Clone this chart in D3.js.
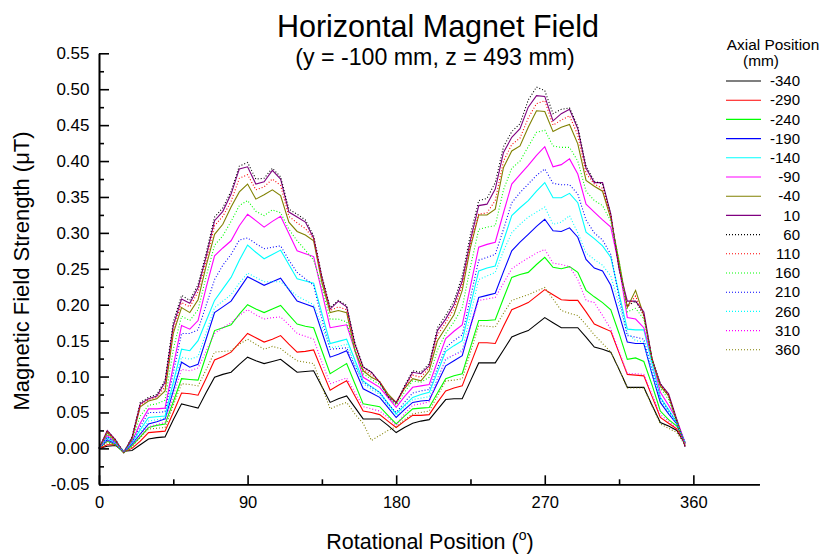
<!DOCTYPE html>
<html><head><meta charset="utf-8">
<script src="https://cdn.jsdelivr.net/npm/d3@7"></script>
<style>
body{margin:0;background:#fff;}
svg{display:block;}
text{font-family:"Liberation Sans",Arial,Helvetica,sans-serif;fill:#000;}
</style>
</head><body>
<svg id="c" width="823" height="557"></svg>
<script>
// ---------- data ----------
const angles = [0,5,10,15,20,25,30,35,40,45,50,55,60,65,70,75,80,85,
  90,95,100,105,110,115,120,125,130,135,140,145,150,155,160,165,170,175,
  180,185,190,195,200,205,210,215,220,225,230,235,240,245,250,255,260,265,
  270,275,280,285,290,295,300,305,310,315,320,325,330,335,340,345,350,355];

const axialLabels = ["-340","-290","-240","-190","-140","-90","-40","10","60","110","160","210","260","310","360"];

const s_m340 = [0.000,0.003,0.004,-0.004,-0.003,0.005,0.013,0.015,0.016,0.040,0.062,0.059,0.056,0.078,0.099,0.103,0.106,0.117,
 0.127,0.122,0.118,0.121,0.124,0.115,0.106,0.107,0.108,0.086,0.064,0.069,0.073,0.057,0.041,0.041,0.041,0.032,
 0.022,0.029,0.035,0.038,0.040,0.054,0.068,0.069,0.069,0.094,0.119,0.119,0.119,0.137,0.155,0.160,0.164,0.173,
 0.182,0.175,0.168,0.168,0.168,0.155,0.141,0.138,0.134,0.110,0.085,0.085,0.085,0.060,0.036,0.031,0.025,0.006];
const s_m290 = [0.000,0.005,0.005,-0.005,0.000,0.010,0.022,0.023,0.024,0.050,0.077,0.076,0.074,0.098,0.123,0.128,0.134,0.147,
 0.160,0.154,0.148,0.152,0.157,0.145,0.134,0.135,0.137,0.109,0.081,0.088,0.094,0.073,0.052,0.050,0.047,0.038,
 0.029,0.038,0.046,0.046,0.047,0.064,0.080,0.084,0.087,0.117,0.147,0.147,0.146,0.170,0.193,0.198,0.203,0.212,
 0.221,0.214,0.207,0.206,0.206,0.190,0.173,0.168,0.163,0.133,0.103,0.102,0.101,0.072,0.043,0.035,0.027,0.008];
const s_m240 = [0.000,0.010,0.005,-0.006,0.004,0.016,0.029,0.032,0.034,0.065,0.097,0.096,0.095,0.130,0.164,0.168,0.172,0.187,
 0.200,0.194,0.189,0.194,0.199,0.186,0.173,0.170,0.168,0.136,0.104,0.111,0.118,0.090,0.062,0.060,0.058,0.046,
 0.034,0.045,0.055,0.056,0.057,0.077,0.097,0.101,0.104,0.141,0.178,0.178,0.179,0.209,0.238,0.242,0.245,0.256,
 0.266,0.252,0.250,0.253,0.245,0.220,0.211,0.203,0.193,0.160,0.124,0.126,0.121,0.088,0.052,0.040,0.031,0.008];
const s_m190 = [0.000,0.012,0.006,-0.005,0.006,0.020,0.034,0.037,0.041,0.080,0.120,0.113,0.117,0.153,0.189,0.197,0.205,0.222,
 0.239,0.233,0.227,0.232,0.237,0.221,0.205,0.201,0.197,0.162,0.127,0.131,0.136,0.110,0.083,0.077,0.071,0.057,
 0.043,0.054,0.064,0.066,0.067,0.091,0.115,0.122,0.129,0.170,0.210,0.213,0.216,0.246,0.275,0.287,0.298,0.309,
 0.319,0.303,0.302,0.307,0.294,0.263,0.251,0.247,0.227,0.187,0.148,0.146,0.146,0.103,0.064,0.048,0.034,0.008];
const s_m140 = [0.000,0.015,0.007,-0.004,0.008,0.026,0.043,0.044,0.045,0.092,0.138,0.136,0.150,0.178,0.206,0.222,0.238,0.262,
 0.283,0.273,0.264,0.270,0.276,0.256,0.236,0.233,0.230,0.188,0.146,0.149,0.152,0.123,0.094,0.086,0.078,0.063,
 0.048,0.060,0.071,0.075,0.078,0.106,0.135,0.143,0.150,0.199,0.247,0.251,0.254,0.289,0.324,0.335,0.345,0.358,
 0.370,0.349,0.349,0.355,0.342,0.301,0.292,0.282,0.266,0.215,0.166,0.165,0.165,0.118,0.071,0.054,0.036,0.008];
const s_m90 = [0.000,0.018,0.008,-0.004,0.010,0.035,0.055,0.055,0.056,0.115,0.171,0.166,0.178,0.225,0.268,0.279,0.289,0.310,
 0.326,0.317,0.308,0.316,0.323,0.299,0.275,0.271,0.267,0.218,0.168,0.170,0.172,0.136,0.099,0.092,0.085,0.071,
 0.057,0.072,0.085,0.087,0.089,0.121,0.153,0.163,0.172,0.226,0.280,0.284,0.287,0.328,0.368,0.381,0.394,0.408,
 0.420,0.392,0.395,0.403,0.382,0.340,0.329,0.318,0.308,0.254,0.182,0.180,0.168,0.125,0.078,0.060,0.040,0.008];
const s_m40 = [0.000,0.022,0.010,-0.005,0.013,0.058,0.066,0.069,0.080,0.160,0.196,0.189,0.207,0.255,0.298,0.312,0.336,0.357,
 0.368,0.347,0.353,0.360,0.352,0.315,0.302,0.297,0.289,0.231,0.189,0.192,0.189,0.136,0.108,0.099,0.093,0.076,
 0.064,0.083,0.097,0.094,0.108,0.150,0.168,0.186,0.220,0.280,0.325,0.325,0.333,0.391,0.414,0.421,0.447,0.470,
 0.469,0.441,0.447,0.451,0.424,0.373,0.365,0.358,0.320,0.260,0.196,0.220,0.185,0.125,0.087,0.073,0.037,0.004];
const s_p10 = [0.000,0.025,0.012,-0.006,0.015,0.062,0.069,0.073,0.092,0.171,0.208,0.202,0.224,0.268,0.317,0.330,0.354,0.389,
 0.392,0.368,0.371,0.387,0.375,0.329,0.322,0.315,0.293,0.238,0.194,0.205,0.197,0.145,0.113,0.106,0.092,0.073,
 0.064,0.085,0.106,0.104,0.115,0.164,0.180,0.200,0.233,0.290,0.338,0.340,0.361,0.412,0.433,0.445,0.475,0.491,
 0.490,0.456,0.466,0.472,0.445,0.390,0.370,0.370,0.326,0.250,0.205,0.205,0.190,0.124,0.090,0.076,0.040,0.002];
const s_p60 = [0.000,0.024,0.012,-0.006,0.016,0.064,0.071,0.075,0.095,0.176,0.213,0.206,0.228,0.273,0.322,0.335,0.358,0.393,
 0.398,0.375,0.376,0.390,0.378,0.333,0.326,0.318,0.296,0.240,0.196,0.206,0.199,0.147,0.114,0.106,0.092,0.072,
 0.062,0.087,0.108,0.106,0.118,0.168,0.185,0.205,0.240,0.298,0.345,0.348,0.370,0.420,0.441,0.452,0.485,0.503,
 0.498,0.466,0.472,0.474,0.448,0.393,0.372,0.368,0.325,0.250,0.198,0.205,0.185,0.123,0.090,0.074,0.038,0.002];
const s_p110 = [0.000,0.024,0.011,-0.006,0.014,0.060,0.068,0.071,0.086,0.165,0.203,0.197,0.218,0.262,0.310,0.323,0.344,0.376,
 0.381,0.360,0.364,0.375,0.366,0.323,0.314,0.306,0.292,0.236,0.192,0.197,0.193,0.142,0.110,0.103,0.093,0.074,
 0.063,0.084,0.102,0.099,0.112,0.158,0.175,0.194,0.227,0.285,0.326,0.328,0.345,0.400,0.423,0.432,0.460,0.480,
 0.484,0.450,0.457,0.463,0.436,0.383,0.368,0.362,0.322,0.255,0.197,0.212,0.184,0.123,0.088,0.074,0.038,0.004];
const s_p160 = [0.000,0.020,0.009,-0.005,0.011,0.045,0.060,0.062,0.067,0.138,0.184,0.178,0.193,0.240,0.283,0.296,0.316,0.338,
 0.345,0.330,0.324,0.332,0.328,0.305,0.289,0.276,0.262,0.225,0.180,0.180,0.176,0.137,0.104,0.096,0.089,0.074,
 0.060,0.078,0.094,0.092,0.099,0.137,0.160,0.176,0.196,0.253,0.305,0.308,0.310,0.360,0.390,0.400,0.420,0.440,
 0.443,0.421,0.419,0.419,0.400,0.358,0.345,0.338,0.316,0.262,0.190,0.195,0.180,0.124,0.084,0.068,0.038,0.006];
const s_p210 = [0.000,0.016,0.008,-0.004,0.009,0.030,0.050,0.050,0.051,0.105,0.160,0.160,0.165,0.200,0.235,0.255,0.270,0.290,
 0.293,0.285,0.278,0.280,0.282,0.262,0.245,0.236,0.227,0.180,0.138,0.139,0.140,0.115,0.092,0.085,0.078,0.062,
 0.050,0.064,0.077,0.080,0.082,0.112,0.140,0.150,0.158,0.210,0.262,0.266,0.270,0.305,0.342,0.356,0.368,0.380,
 0.389,0.369,0.367,0.367,0.354,0.318,0.300,0.290,0.270,0.210,0.157,0.155,0.152,0.110,0.070,0.052,0.036,0.008];
const s_p260 = [0.000,0.013,0.007,-0.004,0.007,0.022,0.038,0.040,0.042,0.085,0.127,0.124,0.128,0.162,0.196,0.205,0.214,0.230,
 0.244,0.238,0.232,0.232,0.232,0.222,0.212,0.206,0.200,0.170,0.140,0.142,0.145,0.118,0.090,0.082,0.075,0.060,
 0.046,0.058,0.068,0.070,0.072,0.098,0.123,0.130,0.137,0.186,0.235,0.240,0.245,0.275,0.300,0.312,0.322,0.329,
 0.336,0.312,0.315,0.324,0.300,0.272,0.263,0.255,0.240,0.200,0.160,0.150,0.148,0.105,0.068,0.050,0.035,0.008];
const s_p310 = [0.000,0.011,0.006,-0.005,0.005,0.018,0.030,0.033,0.036,0.073,0.110,0.108,0.112,0.136,0.160,0.168,0.175,0.185,
 0.193,0.186,0.180,0.182,0.183,0.172,0.160,0.156,0.152,0.120,0.090,0.094,0.098,0.078,0.058,0.055,0.052,0.043,
 0.032,0.048,0.060,0.062,0.065,0.095,0.125,0.130,0.135,0.170,0.206,0.208,0.210,0.230,0.250,0.258,0.265,0.272,
 0.277,0.258,0.256,0.253,0.235,0.206,0.203,0.185,0.166,0.135,0.104,0.104,0.103,0.075,0.047,0.038,0.028,0.006];
const s_p360 = [0.000,0.008,0.005,-0.006,0.002,0.015,0.027,0.028,0.029,0.060,0.090,0.089,0.087,0.110,0.134,0.135,0.136,0.145,
 0.152,0.145,0.138,0.142,0.139,0.130,0.122,0.120,0.118,0.086,0.055,0.060,0.064,0.048,0.035,0.011,0.018,0.025,
 0.030,0.040,0.048,0.050,0.052,0.073,0.094,0.095,0.097,0.134,0.171,0.170,0.169,0.188,0.206,0.210,0.214,0.219,
 0.224,0.208,0.192,0.188,0.185,0.172,0.158,0.146,0.134,0.110,0.084,0.084,0.084,0.059,0.034,0.028,0.022,0.004];

const xMajorTicks = [0,90,180,270,360];
const xMinorTicks = [45,135,225,315];
const yMajorTicks = [-0.05,0.00,0.05,0.10,0.15,0.20,0.25,0.30,0.35,0.40,0.45,0.50,0.55];
const yTickLabels = ["-0.05","0.00","0.05","0.10","0.15","0.20","0.25","0.30","0.35","0.40","0.45","0.50","0.55"];
const yMinorTicks = [-0.025,0.025,0.075,0.125,0.175,0.225,0.275,0.325,0.375,0.425,0.475,0.525];

// ---------- styles ----------
const seriesList = [s_m340,s_m290,s_m240,s_m190,s_m140,s_m90,s_m40,s_p10,s_p60,s_p110,s_p160,s_p210,s_p260,s_p310,s_p360];
const colors = ["#000000","#ff0000","#00ff00","#0000ff","#00ffff","#ff00ff","#808000","#800080",
                "#000000","#ff0000","#00ff00","#0000ff","#00ffff","#ff00ff","#808000"];
const dotted = [false,false,false,false,false,false,false,false,true,true,true,true,true,true,true];

const svg = d3.select("#c");
const x = d3.scaleLinear().domain([0,400]).range([99,759.4]);
const y = d3.scaleLinear().domain([-0.05,0.55]).range([484.3,53.3]);

// ---------- lines ----------
const line = d3.line().x((d,i)=>x(angles[i])).y(d=>y(d));
const gLines = svg.append("g");
seriesList.forEach((s,k)=>{
  gLines.append("path").attr("d",line(s)).attr("fill","none")
    .attr("stroke",colors[k]).attr("stroke-width",1.1)
    .attr("stroke-dasharray",dotted[k]?"1,2":null);
});

// ---------- axes ----------
const yAxis = d3.axisLeft(y).tickValues(yMajorTicks).tickFormat((d,i)=>yTickLabels[i])
  .tickSizeInner(-10).tickSizeOuter(0).tickPadding(9.5);
const gy = svg.append("g").attr("transform","translate(99,0)").call(yAxis);
const yMinor = d3.axisLeft(y).tickValues(yMinorTicks).tickFormat("").tickSizeInner(-5).tickSizeOuter(0);
const gy2 = svg.append("g").attr("transform","translate(99,0)").call(yMinor);

const xAxis = d3.axisBottom(x).tickValues(xMajorTicks).tickFormat(d3.format("d"))
  .tickSizeInner(-9).tickSizeOuter(0).tickPadding(12);
const gx = svg.append("g").attr("transform","translate(0,484.3)").call(xAxis);
const xMinor = d3.axisBottom(x).tickValues(xMinorTicks).tickFormat("").tickSizeInner(-5).tickSizeOuter(0);
const gx2 = svg.append("g").attr("transform","translate(0,484.3)").call(xMinor);

[gy,gy2,gx,gx2].forEach(g=>{
  g.selectAll("path,line").attr("stroke","#000").attr("stroke-width",1.6);
  g.selectAll("text").attr("font-size",16.5).attr("font-family","Liberation Sans, Arial, sans-serif").attr("fill","#000");
});
gy.selectAll("text").attr("font-size",17);

// ---------- titles ----------
svg.append("text").attr("x",438).attr("y",36.7).attr("text-anchor","middle")
  .attr("font-size",30.5).text("Horizontal Magnet Field");
svg.append("text").attr("x",435).attr("y",65).attr("text-anchor","middle")
  .attr("font-size",23.2).text("(y = -100 mm, z = 493 mm)");

const xl = svg.append("text").attr("x",430).attr("y",549).attr("text-anchor","middle").attr("font-size",21.5);
xl.append("tspan").text("Rotational Position (");
xl.append("tspan").attr("font-size",14).attr("dy",-9).text("o");
xl.append("tspan").attr("dy",9).text(")");

svg.append("text").attr("transform","translate(29,271) rotate(-90)").attr("text-anchor","middle")
  .attr("font-size",22).text("Magnetic Field Strength (\u03BCT)");

// ---------- legend ----------
svg.append("text").attr("x",773).attr("y",50).attr("text-anchor","middle").attr("font-size",15.4).text("Axial Position");
svg.append("text").attr("x",761).attr("y",66).attr("text-anchor","middle").attr("font-size",15.4).text("(mm)");
const leg = svg.append("g");
axialLabels.forEach((lab,k)=>{
  const yy = 81 + k*19.2;
  leg.append("line").attr("x1",726).attr("x2",761).attr("y1",yy).attr("y2",yy)
    .attr("stroke",colors[k]).attr("stroke-width",1.1).attr("stroke-dasharray",dotted[k]?"1,2":null);
  leg.append("text").attr("x",800).attr("y",yy).attr("dy","0.35em").attr("text-anchor","end")
    .attr("font-size",15).text(lab);
});
</script>
</body></html>
